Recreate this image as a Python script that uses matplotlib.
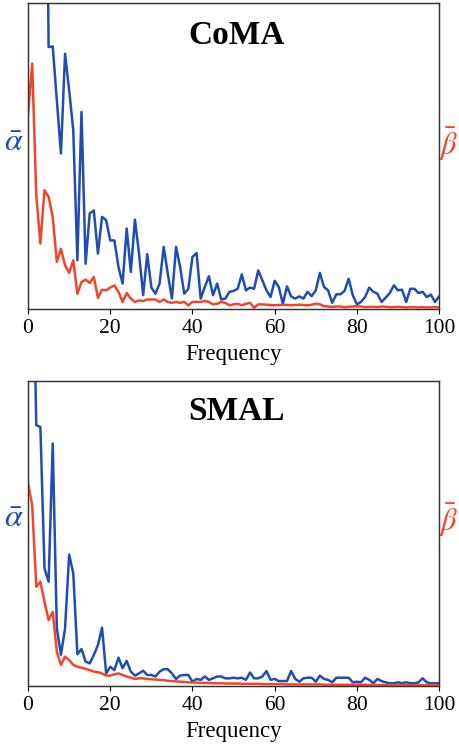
import numpy as np
import matplotlib
matplotlib.use("Agg")
import matplotlib.pyplot as plt

plt.rcParams['font.family'] = ['Liberation Serif', 'DejaVu Serif']
plt.rcParams['mathtext.fontset'] = 'stix'

freq = np.arange(0, 101)

# CoMA, values in % of axis height (first few go off the top)
coma_alpha = [260, 250, 240, 235, 230, 85.6, 85.8, 68.2, 50.8, 83.4,
              71.5, 58.4, 15.9, 64.4, 14.8, 31.2, 32.2, 18.1, 30.1, 29.0,
              22.4, 22.4, 13.7, 8.3, 26.3, 12.1, 29.2, 18.1, 4.5, 17.9,
              7.0, 5.0, 8.3, 20.3, 11.5, 3.4, 20.3, 13.7, 5.0, 6.6,
              17.0, 18.3, 3.4, 7.2, 10.7, 4.5, 8.3, 3.1, 3.4, 5.6,
              5.9, 6.6, 11.3, 6.1, 7.0, 6.6, 12.6, 9.4, 6.1, 3.9,
              9.2, 7.2, 1.7, 7.4, 4.1, 3.4, 4.1, 3.4, 5.6, 4.2,
              6.1, 11.8, 7.2, 6.1, 2.0, 4.8, 4.8, 5.9, 9.9, 4.5,
              1.5, 2.3, 3.9, 7.0, 5.6, 5.0, 2.3, 3.7, 5.2, 7.7,
              6.1, 6.3, 2.3, 6.6, 6.6, 5.2, 5.6, 3.9, 4.7, 2.3,
              4.1]
coma_beta = [63.8, 80.2, 37.1, 21.4, 38.8, 36.6, 30.1, 15.4, 19.7, 14.3,
             11.8, 15.9, 5.0, 8.8, 9.6, 8.5, 10.5, 3.6, 6.3, 6.1,
             7.0, 7.7, 5.6, 2.3, 5.2, 3.4, 2.3, 2.8, 2.6, 3.1,
             3.1, 3.1, 2.3, 3.1, 2.3, 2.0, 2.3, 2.0, 2.3, 1.2,
             2.3, 2.3, 2.3, 2.6, 2.3, 1.5, 1.7, 2.3, 2.0, 1.2,
             1.5, 1.7, 1.2, 1.7, 2.0, 0.4, 1.5, 1.5, 1.4, 1.3,
             1.2, 1.3, 1.4, 1.3, 1.2, 1.3, 1.4, 1.3, 1.2, 1.4,
             1.7, 1.5, 0.9, 0.8, 0.7, 0.8, 0.8, 0.6, 0.7, 0.8,
             0.9, 0.8, 0.6, 0.7, 0.7, 0.6, 0.8, 0.7, 0.6, 0.6,
             0.7, 0.6, 0.5, 0.6, 0.6, 0.5, 0.6, 0.5, 0.5, 0.6,
             0.5]

# SMAL
smal_alpha = [170, 157, 85.5, 84.9, 38.5, 34.2, 79.5, 18.9, 10.2, 18.9,
              43.1, 36.9, 10.4, 12.1, 8.0, 7.4, 10.2, 13.4, 19.1, 4.1,
              6.3, 5.2, 9.3, 5.8, 8.2, 4.7, 3.4, 4.1, 5.0, 3.6,
              3.6, 3.1, 4.7, 5.5, 5.5, 4.1, 2.3, 3.4, 3.6, 3.6,
              1.4, 2.3, 2.0, 3.1, 2.0, 2.5, 3.1, 3.1, 2.5, 2.5,
              2.7, 2.5, 2.7, 2.0, 4.4, 2.5, 2.5, 3.1, 4.9, 2.0,
              2.3, 1.6, 1.6, 1.6, 4.9, 2.3, 1.4, 2.5, 2.7, 2.7,
              1.4, 3.4, 2.3, 2.0, 1.2, 2.7, 2.7, 2.7, 2.7, 1.2,
              1.4, 1.2, 2.7, 2.0, 0.9, 2.3, 1.6, 1.2, 0.9, 0.9,
              1.2, 0.9, 1.2, 0.9, 0.9, 1.2, 2.5, 1.2, 0.9, 0.9,
              0.9]
smal_beta = [66.4, 59.3, 32.5, 34.2, 27.6, 21.6, 24.3, 11.2, 6.9, 9.6,
             8.5, 6.9, 6.3, 6.0, 5.6, 5.2, 4.7, 4.5, 4.1, 3.4,
             3.4, 3.8, 4.1, 3.6, 3.1, 2.7, 2.3, 2.5, 2.5, 2.3,
             2.2, 2.1, 2.0, 1.9, 1.7, 1.6, 1.5, 1.4, 1.3, 1.2,
             1.1, 1.1, 1.0, 1.0, 1.0, 0.9, 0.9, 0.9, 0.8, 0.8,
             0.8, 0.8, 0.7, 0.7, 0.7, 0.7, 0.7, 0.6, 0.6, 0.6,
             0.6, 0.6, 0.6, 0.5, 0.5, 0.5, 0.5, 0.5, 0.5, 0.5,
             0.5, 0.5, 0.4, 0.4, 0.4, 0.4, 0.4, 0.4, 0.4, 0.4,
             0.4, 0.4, 0.4, 0.3, 0.3, 0.3, 0.3, 0.3, 0.3, 0.3,
             0.3, 0.3, 0.3, 0.3, 0.3, 0.3, 0.3, 0.3, 0.3, 0.3,
             0.3]

blue = '#1f4db5'
red = '#f2452c'

fig = plt.figure(figsize=(4.6, 7.44), dpi=100)

panels = [
    ("CoMA", coma_alpha, coma_beta, [0.061, 0.5847, 0.8935, 0.4113], 0.895, 0.54),
    ("SMAL", smal_alpha, smal_beta, [0.061, 0.078, 0.8935, 0.41], 0.90, 0.545),
]

for title, a, b, rect, ty, ly in panels:
    ax = fig.add_axes(rect)
    ax2 = ax.twinx()
    ax.plot(freq, a, color=blue, lw=1.8)
    ax2.plot(freq, b, color=red, lw=1.8)
    for axx in (ax, ax2):
        axx.set_xlim(0, 100)
        axx.set_ylim(0, 100)
        axx.set_yticks([])
        for s in axx.spines.values():
            s.set_color('#333333')
            s.set_linewidth(0.9)
    ax.set_xticks([0, 20, 40, 60, 80, 100])
    ax.tick_params(axis='x', direction='out', length=3.5, width=0.8,
                   labelsize=15.5, pad=4)
    ax.set_xlabel("Frequency", fontsize=16.5, labelpad=4)
    ax.text(0.508, ty, title, transform=ax.transAxes, ha='center',
            va='center', fontsize=24, fontweight='bold')
    ax.set_ylabel(r'$\bar{\alpha}$', color=blue, fontsize=23, rotation=0,
                  va='center', ha='center')
    ax.yaxis.set_label_coords(-0.034, ly)
    ax2.set_ylabel(r'$\bar{\beta}$', color=red, fontsize=22, rotation=0,
                   va='center', ha='center')
    ax2.yaxis.set_label_coords(1.024, ly)

fig.savefig("out.png", dpi=100)
